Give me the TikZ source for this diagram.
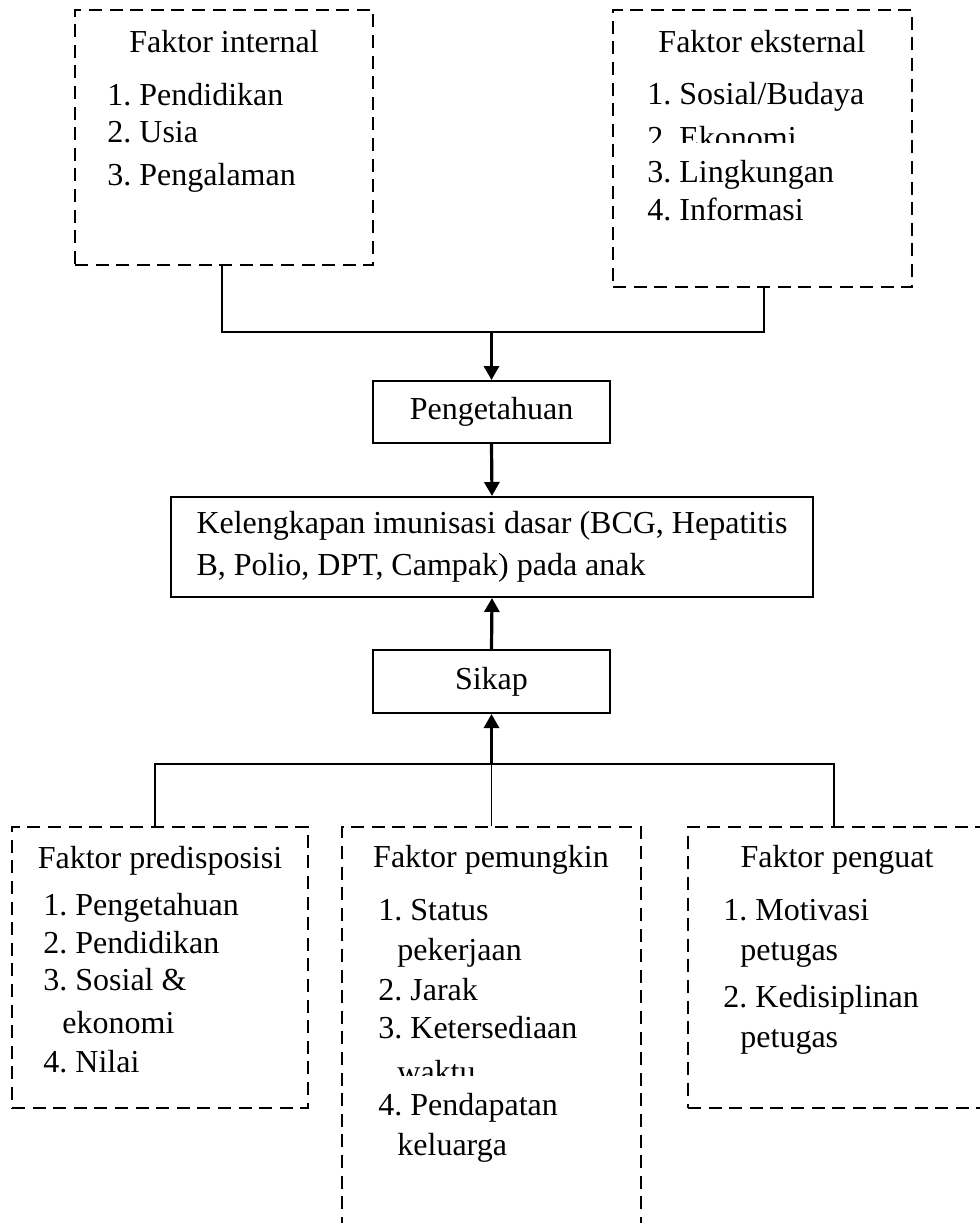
\documentclass[tikz,border=0pt]{standalone}
\usepackage{fontspec}
\setmainfont{Liberation Serif}
\usetikzlibrary{arrows.meta}
\frenchspacing
\begin{document}
\begin{tikzpicture}[x=0.5pt,y=-0.5pt,
  font=\fontsize{16pt}{19pt}\selectfont\frenchspacing,
  dbox/.style={draw, line width=0.9pt, dash pattern=on 6.5pt off 3.8pt, inner sep=0pt},
  sbox/.style={draw, line width=1pt, inner sep=0pt},
  txt/.style={anchor=base west, inner sep=0pt},
  ttl/.style={anchor=base, inner sep=0pt},
  conn/.style={line width=0.85pt},
  arr/.style={line width=1.6pt, -{Triangle[width=7.5pt,length=7pt]}}]
\useasboundingbox (0,0) rectangle (980,1223);

% top-left box
\node[dbox, minimum width=149pt, minimum height=127.5pt] (intl) at (224,137.5) {};
\node[ttl] (intlT) at (224,52) {Faktor internal};
\node[txt] (i1) at (107,105) {1. Pendidikan};
\node[txt] (i2) at (107,142) {2. Usia};
\node[txt] (i3) at (107,185) {3. Pengalaman};

% top-right box
\node[dbox, minimum width=149.5pt, minimum height=138.5pt] (extl) at (762.5,148.5) {};
\node[ttl] (extlT) at (762,52) {Faktor eksternal};
\node[txt] (e1) at (647,104) {1. Sosial/Budaya};
\begin{scope}
\clip (640,110) rectangle (900,142);
\node[txt] (e2) at (647,148) {2. Ekonomi};
\end{scope}
\node[txt] (e3) at (647,182) {3. Lingkungan};
\node[txt] (e4) at (647,220) {4. Informasi};

% middle boxes
\node[sbox, minimum width=118.5pt, minimum height=31pt] (peng) at (491.5,412) {Pengetahuan};
\node[sbox, minimum width=321pt, minimum height=50pt, align=left,
  font=\fontsize{16pt}{21pt}\selectfont] (main) at (492,547)
  {Kelengkapan imunisasi dasar (BCG, Hepatitis\\B, Polio, DPT, Campak) pada anak};
\node[sbox, minimum width=118.5pt, minimum height=31.5pt] (sikap) at (491.5,681.5) {Sikap};

% bottom-left box
\node[dbox, minimum width=148pt, minimum height=140.5pt] (pred) at (160,967.5) {};
\node[ttl] (predT) at (160,868) {Faktor predisposisi};
\node[txt] (p1) at (43,915) {1. Pengetahuan};
\node[txt] (p2) at (43,953) {2. Pendidikan};
\node[txt] (p3) at (43,990) {3. Sosial \&};
\node[txt] (p3b) at (62,1033) {ekonomi};
\node[txt] (p4) at (43,1072) {4. Nilai};

% bottom-middle box
\node[dbox, minimum width=149.5pt, minimum height=206.5pt] (pemu) at (491.5,1033.5) {};
\node[ttl] (pemuT) at (491,867) {Faktor pemungkin};
\node[txt] (m1) at (378,920) {1. Status};
\node[txt] (m1b) at (397,960) {pekerjaan};
\node[txt] (m2) at (378,1000) {2. Jarak};
\node[txt] (m3) at (378,1038) {3. Ketersediaan};
\begin{scope}
\clip (390,1050) rectangle (600,1075);
\node[txt] (m3b) at (397,1082) {waktu};
\end{scope}
\node[txt] (m4) at (378,1115) {4. Pendapatan};
\node[txt] (m4b) at (397,1155) {keluarga};

% bottom-right box
\node[dbox, minimum width=149pt, minimum height=140.5pt] (pengu) at (837,967.5) {};
\node[ttl] (penguT) at (837,867) {Faktor penguat};
\node[txt] (r1) at (723,920) {1. Motivasi};
\node[txt] (r1b) at (740,960) {petugas};
\node[txt] (r2) at (723,1007) {2. Kedisiplinan};
\node[txt] (r2b) at (740,1047) {petugas};

% connectors
\coordinate (j1) at (491.5,332);
\draw[conn] ([xshift=-1pt]intl.south) |- (j1) -| ([xshift=0.75pt]extl.south);
\draw[arr] (j1) -- (peng.north);
\draw[arr] (peng.south) -- (main.north);
\draw[arr] (sikap.north) -- (main.south);
\coordinate (j2) at (491.5,764);
\draw[conn] (pemu.north) -- (j2);
\draw[arr] (j2) -- (sikap.south);
\draw[conn] ([xshift=-2.5pt]pred.north) |- (j2) -| ([xshift=-1.5pt]pengu.north);
\end{tikzpicture}
\end{document}
